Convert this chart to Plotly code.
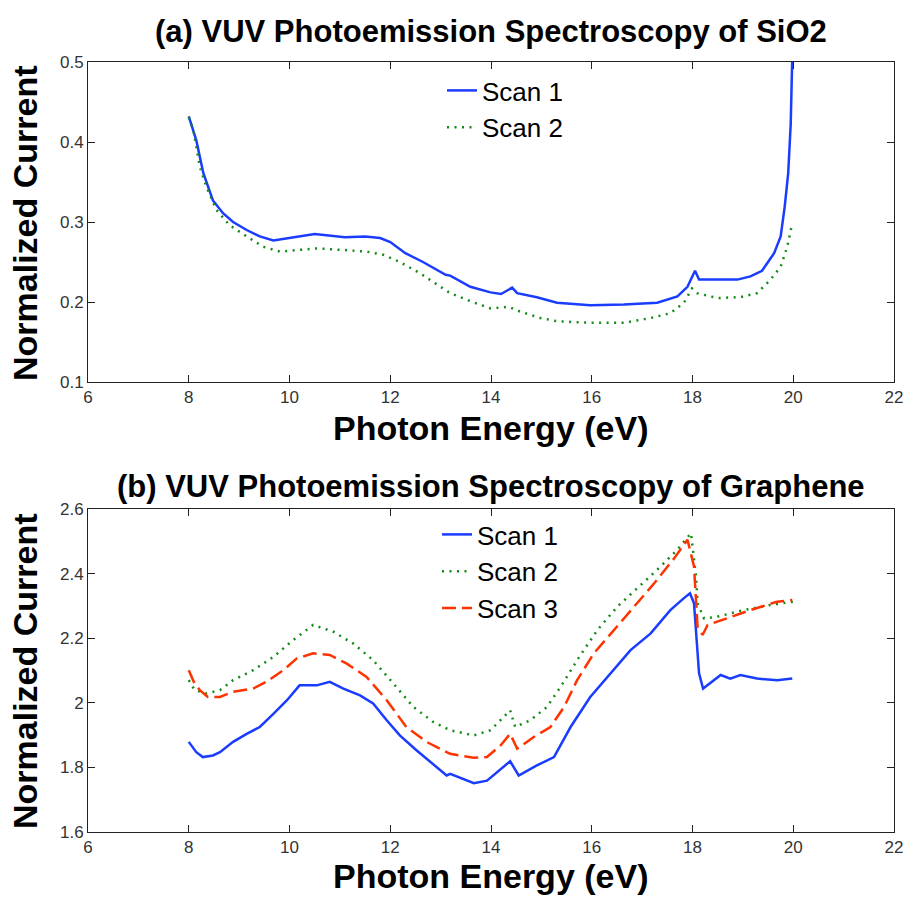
import plotly.graph_objects as go

# ---------------- (a) SiO2 ----------------
a_s1_x = [8.0, 8.15, 8.29, 8.48, 8.68, 8.88, 9.15, 9.41, 9.68, 10.0, 10.5, 11.1, 11.5, 11.8, 12.0,
          12.3, 12.65, 13.1, 13.19, 13.59, 13.99, 14.2, 14.42, 14.52, 14.91, 15.31, 15.97, 16.64,
          17.3, 17.7, 17.9, 18.05, 18.13, 18.49, 18.89, 19.15, 19.38, 19.62, 19.75, 19.83, 19.9,
          19.95, 19.98, 20.0]
a_s1_y = [0.432, 0.402, 0.361, 0.327, 0.311, 0.300, 0.290, 0.282, 0.277, 0.280, 0.285, 0.281, 0.282,
          0.280, 0.275, 0.261, 0.250, 0.234, 0.233, 0.219, 0.212, 0.210, 0.218, 0.211, 0.206, 0.199,
          0.196, 0.197, 0.199, 0.207, 0.219, 0.239, 0.228, 0.228, 0.228, 0.232, 0.239, 0.261, 0.282,
          0.319, 0.361, 0.423, 0.500, 0.560]

a_s2_x = [8.0, 8.09, 8.22, 8.35, 8.55, 8.81, 9.15, 9.48, 9.81, 10.2, 10.54, 11.07, 11.53, 11.86,
          12.19, 12.59, 13.05, 13.19, 13.59, 13.99, 14.35, 14.58, 14.98, 15.31, 15.97, 16.64, 17.17,
          17.56, 17.83, 17.99, 18.09, 18.49, 18.95, 19.28, 19.55, 19.75, 19.88, 19.98]
a_s2_y = [0.431, 0.415, 0.369, 0.344, 0.315, 0.296, 0.282, 0.269, 0.263, 0.265, 0.267, 0.265, 0.263,
          0.259, 0.250, 0.236, 0.217, 0.211, 0.201, 0.192, 0.194, 0.188, 0.180, 0.176, 0.174, 0.174,
          0.180, 0.186, 0.199, 0.217, 0.211, 0.205, 0.206, 0.211, 0.228, 0.244, 0.269, 0.298]

# ---------------- (b) Graphene ----------------
b_s1_x = [8.0, 8.15, 8.28, 8.48, 8.62, 8.88, 9.15, 9.41, 9.68, 9.95, 10.2, 10.54, 10.8, 11.07, 11.4,
          11.66, 11.93, 12.19, 12.52, 12.85, 13.12, 13.19, 13.66, 13.92, 14.12, 14.38, 14.55, 14.91,
          15.25, 15.58, 15.97, 16.37, 16.77, 17.17, 17.56, 17.83, 17.95, 18.03, 18.08, 18.13, 18.21,
          18.42, 18.56, 18.75, 18.95, 19.28, 19.68, 19.98]
b_s1_y = [1.879, 1.847, 1.832, 1.837, 1.847, 1.879, 1.904, 1.925, 1.966, 2.008, 2.054, 2.054, 2.065,
          2.044, 2.023, 1.998, 1.946, 1.899, 1.853, 1.811, 1.775, 1.780, 1.751, 1.759, 1.785, 1.819,
          1.775, 1.806, 1.832, 1.925, 2.018, 2.091, 2.163, 2.215, 2.287, 2.324, 2.339, 2.308, 2.184,
          2.091, 2.044, 2.070, 2.086, 2.075, 2.086, 2.075, 2.070, 2.075]

b_s2_x = [8.0, 8.12, 8.35, 8.62, 8.88, 9.28, 9.68, 10.07, 10.47, 10.87, 11.26, 11.66, 12.06, 12.46,
          12.85, 13.12, 13.19, 13.66, 13.99, 14.25, 14.38, 14.48, 14.78, 15.11, 15.38, 15.71, 16.11,
          16.51, 16.91, 17.30, 17.70, 17.97, 18.07, 18.10, 18.23, 18.50, 19.02, 19.55, 20.0]
b_s2_y = [2.070, 2.039, 2.029, 2.039, 2.070, 2.101, 2.142, 2.194, 2.241, 2.220, 2.184, 2.132, 2.060,
          1.987, 1.941, 1.920, 1.915, 1.899, 1.915, 1.956, 1.977, 1.925, 1.946, 1.987, 2.049, 2.132,
          2.225, 2.298, 2.355, 2.412, 2.474, 2.525, 2.391, 2.308, 2.261, 2.267, 2.287, 2.303, 2.313]

b_s3_x = [8.0, 8.1, 8.22, 8.38, 8.62, 8.88, 9.28, 9.54, 9.88, 10.14, 10.47, 10.8, 11.13, 11.53, 11.93,
          12.32, 12.72, 13.05, 13.19, 13.66, 13.92, 14.19, 14.38, 14.52, 14.85, 15.18, 15.45, 15.71,
          16.04, 16.44, 16.84, 17.24, 17.64, 17.90, 18.03, 18.10, 18.20, 18.30, 18.69, 19.15, 19.68,
          19.98]
b_s3_y = [2.101, 2.065, 2.039, 2.018, 2.018, 2.034, 2.044, 2.065, 2.101, 2.137, 2.153, 2.148, 2.122,
          2.080, 2.008, 1.925, 1.879, 1.853, 1.842, 1.830, 1.832, 1.868, 1.904, 1.858, 1.894, 1.925,
          1.987, 2.070, 2.153, 2.225, 2.298, 2.370, 2.448, 2.505, 2.422, 2.236, 2.210, 2.241, 2.262,
          2.287, 2.313, 2.318]

x_ticks = [6, 8, 10, 12, 14, 16, 18, 20, 22]
BLUE = "#1a3cff"
GREEN = "#138a13"
RED = "#ff3300"

W, H = 907, 900

def px_x(p):
    return p / W

def px_y(p):
    return 1 - p / H

fig = go.Figure()
fig.add_trace(go.Scatter(x=a_s1_x, y=a_s1_y, mode="lines", name="Scan 1",
                         line=dict(color=BLUE, width=2.5), xaxis="x", yaxis="y", legend="legend"))
fig.add_trace(go.Scatter(x=a_s2_x, y=a_s2_y, mode="lines", name="Scan 2",
                         line=dict(color=GREEN, width=2.5, dash="2px,5.5px"), xaxis="x", yaxis="y",
                         legend="legend"))
fig.add_trace(go.Scatter(x=b_s1_x, y=b_s1_y, mode="lines", name="Scan 1",
                         line=dict(color=BLUE, width=2.5), xaxis="x2", yaxis="y2", legend="legend2"))
fig.add_trace(go.Scatter(x=b_s2_x, y=b_s2_y, mode="lines", name="Scan 2",
                         line=dict(color=GREEN, width=2.5, dash="2px,5.5px"), xaxis="x2", yaxis="y2",
                         legend="legend2"))
fig.add_trace(go.Scatter(x=b_s3_x, y=b_s3_y, mode="lines", name="Scan 3",
                         line=dict(color=RED, width=2.5, dash="14px,6px"), xaxis="x2", yaxis="y2",
                         legend="legend2"))

ax_common = dict(showline=True, linecolor="#222", linewidth=1, mirror="ticks", ticks="inside",
                 ticklen=7, tickcolor="#222", showgrid=False, zeroline=False,
                 tickfont=dict(family="Liberation Sans, Arial", size=17, color="#333"))

fig.update_layout(
    width=W, height=H, margin=dict(l=0, r=0, t=0, b=0, autoexpand=False),
    paper_bgcolor="white", plot_bgcolor="white",
    font=dict(family="Liberation Sans, Arial", color="black"),
    xaxis=dict(domain=[px_x(88), px_x(894)], range=[6, 22], tickvals=x_ticks, anchor="y",
               ticklabeloverflow="allow", **ax_common),
    yaxis=dict(domain=[px_y(382), px_y(62)], range=[0.1, 0.5], dtick=0.1, tick0=0.1, anchor="x",
               **ax_common),
    xaxis2=dict(domain=[px_x(88), px_x(894)], range=[6, 22], tickvals=x_ticks, anchor="y2",
                ticklabeloverflow="allow", **ax_common),
    yaxis2=dict(domain=[px_y(832), px_y(509)], range=[1.6, 2.6], dtick=0.2, tick0=1.6, anchor="x2",
                **ax_common),
    legend=dict(x=px_x(442), y=px_y(67), xanchor="left", yanchor="top", bgcolor="rgba(0,0,0,0)",
                font=dict(size=26, family="Liberation Sans, Arial", color="black")),
    legend2=dict(x=px_x(437), y=px_y(511), xanchor="left", yanchor="top", bgcolor="rgba(0,0,0,0)",
                 font=dict(size=26, family="Liberation Sans, Arial", color="black")),
)

bold = dict(family="Liberation Sans, Arial", color="black")
ann = [
    dict(text="<b>(a) VUV Photoemission Spectroscopy of SiO2</b>", x=px_x(491), y=px_y(31),
         font=dict(size=31, **bold)),
    dict(text="<b>(b) VUV Photoemission Spectroscopy of Graphene</b>", x=px_x(491), y=px_y(486),
         font=dict(size=31, **bold)),
    dict(text="<b>Photon Energy (eV)</b>", x=px_x(490), y=px_y(428), font=dict(size=34, **bold)),
    dict(text="<b>Photon Energy (eV)</b>", x=px_x(490), y=px_y(876), font=dict(size=34, **bold)),
    dict(text="<b>Normalized Current</b>", x=px_x(25), y=px_y(223), textangle=-90,
         font=dict(size=34, **bold)),
    dict(text="<b>Normalized Current</b>", x=px_x(25), y=px_y(671), textangle=-90,
         font=dict(size=34, **bold)),
]
for a in ann:
    a.update(xref="paper", yref="paper", showarrow=False, xanchor="center", yanchor="middle")
    fig.add_annotation(**a)

# remove the default page margin so the 907x900 figure fills the window exactly
fig.write_html("out.html", config={"displayModeBar": False},
               post_script="document.body.style.margin='0';")
